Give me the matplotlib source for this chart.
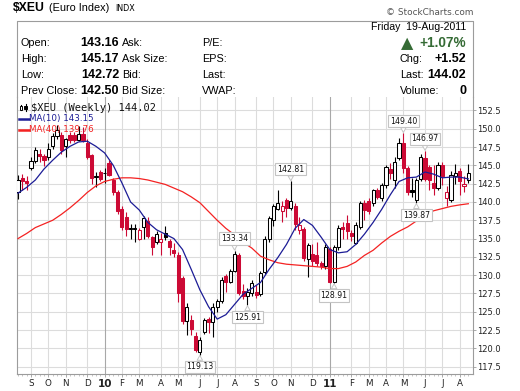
import matplotlib
matplotlib.use('Agg')
import matplotlib.pyplot as plt
from matplotlib.patches import Rectangle
from matplotlib.lines import Line2D

W, H = 520, 391

# ---------------- data (weekly OHLC, week 0 = 21-Aug-2009) ----------------
opens = [141.3, 143.3, 142.9, 144.7, 145.6, 146.6, 146.3, 146.1, 147.6, 149.0,
         149.2, 147.7, 149.2, 149.2, 148.5, 149.3, 148.0, 146.4, 143.4, 144.1,
         143.9, 145.3, 143.0, 141.4, 139.1, 137.9, 136.3, 136.3, 135.0, 136.6,
         137.4, 135.2, 134.6, 134.6, 135.8, 134.7, 133.5, 132.8, 129.6, 123.7,
         123.9, 121.7, 119.5, 122.3, 124.0, 123.6, 125.7, 126.5, 129.9, 129.1,
         130.6, 132.8, 127.9, 127.2, 127.6, 127.7, 127.4, 130.4, 134.9, 137.6,
         139.1, 138.8, 140.3, 139.2, 139.4, 136.2, 136.3, 132.2, 132.9, 132.8,
         131.6, 131.2, 133.6, 129.0, 133.9, 136.6, 137.1, 135.7, 134.4, 136.6,
         139.8, 140.2, 139.8, 141.7, 140.6, 142.3, 144.5, 143.0, 146.0, 148.1,
         144.6, 141.6, 140.3, 143.2, 146.0, 144.8, 142.6, 141.9, 145.1, 140.5,
         140.3, 143.5, 144.2, 142.2, 143.0]
highs = [143.7, 143.8, 143.6, 146.2, 147.5, 147.3, 146.6, 148.1, 149.4, 150.5,
         149.6, 148.8, 149.5, 149.6, 150.4, 150.2, 148.6, 146.6, 144.1, 144.4,
         144.6, 145.8, 143.3, 141.6, 139.4, 138.6, 137.0, 137.0, 136.5, 138.1,
         137.9, 135.4, 136.1, 135.7, 136.7, 135.0, 134.4, 133.2, 129.9, 126.2,
         124.5, 122.3, 121.6, 124.2, 124.3, 126.2, 126.8, 129.8, 130.1, 130.9,
         133.34, 133.0, 128.8, 128.3, 129.3, 128.6, 130.6, 135.3, 138.1, 139.7,
         141.6, 140.2, 140.6, 142.81, 139.8, 138.0, 136.6, 134.4, 134.2, 134.6,
         132.0, 134.3, 133.9, 134.1, 136.9, 137.2, 138.2, 136.2, 137.2, 140.1,
         140.3, 140.5, 141.8, 141.9, 142.6, 145.0, 145.3, 146.1, 148.8, 149.40,
         144.9, 143.3, 143.3, 146.5, 146.97, 145.0, 145.1, 145.4, 145.4, 142.2,
         144.2, 145.2, 144.6, 143.6, 145.2]
lows = [140.4, 141.7, 141.6, 144.3, 145.3, 145.4, 144.9, 145.8, 147.3, 148.6,
        146.6, 146.2, 148.0, 148.2, 148.3, 148.2, 145.9, 142.4, 142.1, 142.8,
        142.6, 143.5, 141.0, 138.4, 136.2, 135.3, 134.9, 134.6, 134.8, 134.9,
        135.1, 132.8, 134.3, 132.7, 134.8, 132.7, 132.5, 126.4, 123.3, 121.8,
        121.8, 119.5, 119.13, 122.0, 122.1, 121.5, 125.0, 126.2, 127.7, 128.9,
        130.4, 127.3, 126.7, 125.91, 127.2, 126.9, 127.2, 130.2, 134.6, 136.7,
        138.9, 137.2, 138.0, 138.9, 136.2, 135.6, 131.9, 129.8, 131.2, 131.2,
        130.9, 130.9, 128.95, 128.91, 133.5, 135.0, 135.0, 134.7, 134.2, 136.3,
        137.6, 138.4, 139.4, 140.4, 140.1, 141.9, 143.2, 141.9, 145.7, 144.0,
        140.9, 140.7, 139.87, 142.8, 142.9, 141.6, 141.0, 141.6, 142.3, 139.4,
        140.0, 142.4, 141.0, 141.4, 142.6]
closes = [143.0, 142.8, 142.6, 145.6, 147.1, 146.3, 145.7, 147.2, 149.0, 149.8,
          147.1, 148.6, 148.5, 148.4, 149.3, 148.5, 146.1, 143.3, 143.5, 143.2,
          144.0, 143.7, 141.4, 138.7, 136.6, 136.3, 136.4, 136.5, 136.2, 137.8,
          135.4, 133.9, 135.6, 135.0, 135.2, 133.9, 133.0, 127.6, 123.8, 125.7,
          122.7, 119.8, 121.1, 123.9, 123.6, 125.7, 126.5, 129.3, 129.1, 130.6,
          132.9, 127.6, 127.2, 127.7, 128.9, 127.3, 130.3, 135.0, 137.8, 139.4,
          139.9, 139.4, 139.2, 140.2, 137.0, 136.9, 132.4, 134.1, 132.0, 131.6,
          131.2, 133.9, 129.0, 133.9, 136.4, 136.3, 136.0, 135.4, 136.9, 139.8,
          138.9, 138.8, 141.6, 140.7, 142.3, 144.8, 144.0, 145.5, 148.0, 144.6,
          141.3, 141.4, 143.0, 146.2, 143.2, 143.0, 141.9, 145.1, 143.5, 141.4,
          143.7, 143.9, 142.8, 142.5, 144.02]

ma_weeks = list(range(0, 105, 2))
ma10 = [141.2, 142.0, 143.0, 144.5, 145.7, 146.8, 147.6, 148.2, 148.3, 147.6,
        146.7, 145.0, 142.6, 140.0, 138.9, 137.2, 136.2, 135.6, 135.0, 133.5,
        130.8, 128.0, 125.7, 124.0, 124.6, 126.0, 127.4, 128.2, 129.0, 130.8,
        132.4, 134.2, 136.4, 137.6, 136.8, 135.2, 133.5, 133.05, 133.2, 134.2,
        135.6, 137.2, 139.0, 141.0, 142.8, 143.3, 143.4, 144.1, 143.8, 143.3,
        143.4, 143.4, 143.15]
ma40 = [135.0, 135.7, 136.5, 137.0, 137.5, 138.3, 139.2, 140.2, 141.3, 142.2,
        142.8, 143.1, 143.3, 143.3, 143.2, 143.0, 142.7, 142.4, 141.9, 141.4,
        140.7, 139.9, 138.7, 137.5, 136.4, 135.5, 134.5, 133.7, 132.6, 132.1,
        131.7, 131.5, 131.4, 131.3, 131.2, 131.1, 130.9, 130.9, 131.2, 131.8,
        132.7, 133.4, 134.4, 135.3, 136.0, 136.6, 137.4, 138.2, 138.8, 139.1,
        139.4, 139.6, 139.76]

month_weeks = [3, 7, 11, 16, 20, 24, 28, 33, 37, 42, 46, 50, 55, 59, 63, 68,
               72, 77, 81, 85, 89, 94, 98, 102]
month_labels = ['S', 'O', 'N', 'D', '10', 'F', 'M', 'A', 'M', 'J', 'J', 'A',
                'S', 'O', 'N', 'D', '11', 'F', 'M', 'A', 'M', 'J', 'J', 'A']
year_labels = ['10', '11']

y_ticks = [117.5, 120.0, 122.5, 125.0, 127.5, 130.0, 132.5, 135.0, 137.5,
           140.0, 142.5, 145.0, 147.5, 150.0, 152.5]

ann_weeks = [42, 50, 53, 63, 73, 89, 92, 94]
ann_vals = [119.13, 133.34, 125.91, 142.81, 128.91, 149.40, 139.87, 146.97]
ann_side = ['low', 'high', 'low', 'high', 'low', 'high', 'low', 'high']

hdr_labels = ['Open:', 'High:', 'Low:', 'Prev Close:']
hdr_values = ['143.16', '145.17', '142.72', '142.50']
hdr_mid = ['Ask:', 'Ask Size:', 'Bid:', 'Bid Size:']
hdr_mid2 = ['P/E:', 'EPS:', 'Last:', 'VWAP:']
hdr_right_labels = ['Chg:', 'Last:', 'Volume:']
hdr_right_values = ['+1.52', '144.02', '0']

# ---------------- style ----------------
RED = '#cc0a35'
BLACK = '#000000'
GRID = '#dcdcdc'
YEAR_GRID = '#a8a8a8'
FRAME = '#9c9c9c'
BLUE = '#1c1c96'
MA_RED = '#f42222'
GREEN = '#356b35'
HFONT = ['Liberation Sans', 'DejaVu Sans']


def fx(x):
    return x / W


def fy(y):
    return 1 - y / H


fig = plt.figure(figsize=(W / 100, H / 100), dpi=100)
fig.patch.set_facecolor('white')

AX_L, AX_R, AX_T, AX_B = 16.5, 473.0, 97.0, 374.0
ax = fig.add_axes([fx(AX_L), fy(AX_B), (AX_R - AX_L) / W, (AX_B - AX_T) / H])
XMIN, XMAX = -0.35, 105.08
YMIN, YMAX = 116.50, 154.34
ax.set_xlim(XMIN, XMAX)
ax.set_ylim(YMIN, YMAX)

# grid
ax.hlines(y_ticks, XMIN, XMAX, color=GRID, lw=0.8, zorder=1)
for wk, lab in zip(month_weeks, month_labels):
    ax.axvline(wk, color=YEAR_GRID if lab in year_labels else GRID, lw=0.8, zorder=1)

# candles
bw = 0.72
for i in range(len(closes)):
    o, h, l, c = opens[i], highs[i], lows[i], closes[i]
    prev = closes[i - 1] if i > 0 else o
    col = BLACK if c >= prev else RED
    hollow = c >= o
    ax.vlines(i, l, h, color=col, lw=0.8, zorder=3)
    bottom = min(o, c)
    height = max(abs(c - o), 0.08)
    ax.add_patch(Rectangle((i - bw / 2, bottom), bw, height,
                           facecolor='white' if hollow else col,
                           edgecolor=col, lw=0.75, zorder=4))

# moving averages
ax.plot(ma_weeks, ma40, color=MA_RED, lw=0.9, zorder=5)
ax.plot(ma_weeks, ma10, color=BLUE, lw=0.9, zorder=5)

# annotation boxes
for wk, val, side in zip(ann_weeks, ann_vals, ann_side):
    off = 5.5 if side == 'high' else -5.5
    ax.annotate('%.2f' % val, xy=(wk, val), xytext=(0, off),
                textcoords='offset points', ha='center',
                va='bottom' if side == 'high' else 'top',
                fontsize=5.6, color='#111111', zorder=8,
                bbox=dict(boxstyle='square,pad=0.22', fc='white', ec='#c4c4c4', lw=0.8),
                arrowprops=dict(arrowstyle='wedge,tail_width=0.7,shrink_factor=0.5',
                                fc='white', ec='#c4c4c4', lw=0.7,
                                shrinkA=0, shrinkB=0.5))

# axes styling
ax.spines['top'].set_visible(False)
for s in ['left', 'right', 'bottom']:
    ax.spines[s].set_color(FRAME)
    ax.spines[s].set_linewidth(0.8)
ax.yaxis.tick_right()
ax.set_yticks(y_ticks)
ax.set_yticklabels(['%.1f' % v for v in y_ticks])
ax.tick_params(axis='y', which='major', length=2, width=0.6, color=FRAME,
               labelsize=6, pad=1.3, labelcolor='#222222')
ax.set_xticks(month_weeks)
ax.set_xticklabels(month_labels)
ax.set_xticks(list(range(0, 105)), minor=True)
ax.tick_params(axis='x', which='major', length=2, width=0.6, color=FRAME,
               labelsize=6.3, pad=1.8, labelcolor='#222222')
ax.tick_params(axis='x', which='minor', length=1.2, width=0.6, color='#bcbcbc')
for lbl in ax.get_xticklabels():
    if lbl.get_text() in year_labels:
        lbl.set_fontweight('bold')
        lbl.set_fontsize(7.5)

# ---------------- header ----------------
fig.add_artist(Line2D([fx(AX_L), fx(AX_L), fx(AX_R), fx(AX_R)],
                      [fy(AX_T), fy(21), fy(21), fy(AX_T)],
                      transform=fig.transFigure, color=FRAME, lw=0.8))

fig.text(fx(12.5), fy(8), '$XEU', parse_math=False, fontsize=8.8, weight='bold',
         family=HFONT, va='center', ha='left')
fig.text(fx(49), fy(8.3), '(Euro Index)', fontsize=7.8, family=HFONT, va='center', ha='left')
fig.text(fx(115), fy(8.3), 'INDX', fontsize=5.8, family='DejaVu Sans', va='center', ha='left')
fig.text(fx(473), fy(12.5), '\u00a9 StockCharts.com', fontsize=6.4, family='DejaVu Sans',
         color='#555555', va='center', ha='right')

rows_y = [43, 59, 75, 91]
for yy, a, v, m, m2 in zip(rows_y, hdr_labels, hdr_values, hdr_mid, hdr_mid2):
    fig.text(fx(20.7), fy(yy), a, fontsize=7.8, family=HFONT, va='center', ha='left')
    fig.text(fx(119), fy(yy), v, fontsize=9, weight='bold', family=HFONT, va='center', ha='right')
    fig.text(fx(122), fy(yy), m, fontsize=7.8, family=HFONT, va='center', ha='left')
    fig.text(fx(202), fy(yy), m2, fontsize=7.8, family=HFONT, va='center', ha='left')

fig.text(fx(466), fy(27), 'Friday  19-Aug-2011', fontsize=7.6, family=HFONT, va='center', ha='right')
fig.text(fx(400.5), fy(43.5), '\u25b2', fontsize=11.5, family='DejaVu Sans', color=GREEN,
         va='center', ha='left')
fig.text(fx(466), fy(43), '+1.07%', fontsize=9.8, weight='bold', family=HFONT, color=GREEN,
         va='center', ha='right')
for yy, a, v in zip(rows_y[1:], hdr_right_labels, hdr_right_values):
    fig.text(fx(400), fy(yy), a, fontsize=7.8, family=HFONT, va='center', ha='left')
    fig.text(fx(466), fy(yy), v, fontsize=9, weight='bold', family=HFONT, va='center', ha='right')

# ---------------- legend in plot ----------------
for (xc, top, bot, wt, wb, filled) in [(21.0, 104.5, 110.5, 105.5, 109.5, False),
                                        (25.5, 104.0, 111.0, 106.0, 109.0, True)]:
    fig.add_artist(Line2D([fx(xc), fx(xc)], [fy(top), fy(bot)], transform=fig.transFigure,
                          color='black', lw=0.8, zorder=6))
    fig.add_artist(Rectangle((fx(xc - 1.4), fy(wb)), 2.8 / W, (wb - wt) / H,
                             transform=fig.transFigure, facecolor='black' if filled else 'white',
                             edgecolor='black', lw=0.7, zorder=7))
fig.text(fx(31), fy(107.7), '$XEU (Weekly) 144.02', parse_math=False, fontsize=7.5,
         family='DejaVu Sans Mono', va='center', ha='left', color='#111111', zorder=8)
fig.add_artist(Line2D([fx(18.5), fx(28.5)], [fy(119), fy(119)], transform=fig.transFigure,
                      color=BLUE, lw=1.8, zorder=6))
fig.text(fx(29.3), fy(119), 'MA(10) 143.15', fontsize=6.3, family='DejaVu Sans',
         va='center', ha='left', color=BLUE, zorder=8)
fig.add_artist(Line2D([fx(18.5), fx(28.5)], [fy(129.5), fy(129.5)], transform=fig.transFigure,
                      color=MA_RED, lw=1.8, zorder=6))
fig.text(fx(29.3), fy(129.5), 'MA(40) 139.76', fontsize=6.3, family='DejaVu Sans',
         va='center', ha='left', color=MA_RED, zorder=8)

fig.savefig('out.png', dpi=100, facecolor='white')
